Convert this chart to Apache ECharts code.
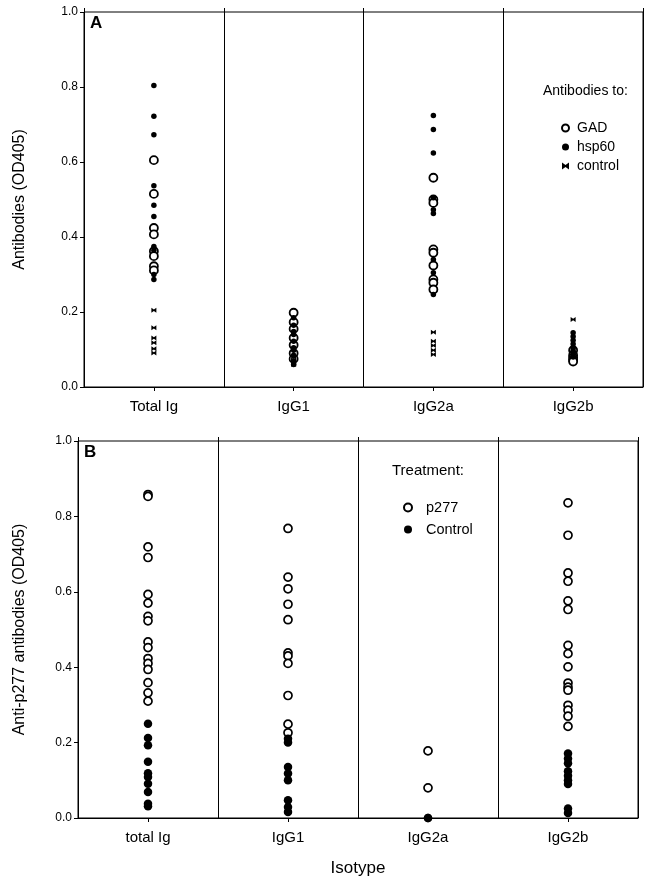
<!DOCTYPE html>
<html>
<head>
<meta charset="utf-8">
<script src="https://cdn.jsdelivr.net/npm/echarts@6/dist/echarts.min.js"></script>
<style>html,body{margin:0;padding:0;background:#fff}#c{width:646px;height:884px}</style>
</head>
<body>
<div id="c"></div>
<script>
// ---- data ----
const categoriesA = ['Total Ig', 'IgG1', 'IgG2a', 'IgG2b'];
const categoriesB = ['total Ig', 'IgG1', 'IgG2a', 'IgG2b'];
const yTickInterval = 0.2;

// Panel A: antibodies to GAD / hsp60 / control, one list per isotype
const gadA = [
  [0.605, 0.515, 0.424, 0.407, 0.362, 0.349, 0.322, 0.311],
  [0.198, 0.173, 0.155, 0.131, 0.112, 0.090, 0.075],
  [0.558, 0.500, 0.491, 0.367, 0.358, 0.324, 0.287, 0.278, 0.260],
  [0.098, 0.085, 0.078, 0.072, 0.068]
];
const hspA = [
  [0.804, 0.722, 0.673, 0.537, 0.485, 0.455, 0.375, 0.365, 0.300, 0.287],
  [0.185, 0.165, 0.148, 0.140, 0.122, 0.105, 0.098, 0.085, 0.070, 0.060],
  [0.724, 0.687, 0.624, 0.505, 0.473, 0.463, 0.340, 0.305, 0.247],
  [0.145, 0.135, 0.125, 0.115, 0.105, 0.095, 0.088, 0.080]
];
const ctrlA = [
  [0.205, 0.158, 0.131, 0.118, 0.102, 0.091],
  [0.080, 0.070, 0.065, 0.060],
  [0.146, 0.122, 0.111, 0.098, 0.087],
  [0.180, 0.100, 0.090]
];

// Panel B: anti-p277 antibodies, p277 treated vs Control
const p277B = [
  [0.858, 0.853, 0.719, 0.691, 0.593, 0.570, 0.535, 0.523, 0.467, 0.452, 0.423, 0.410, 0.394, 0.359, 0.332, 0.310],
  [0.768, 0.639, 0.608, 0.567, 0.526, 0.438, 0.430, 0.410, 0.325, 0.249, 0.226],
  [0.178, 0.080],
  [0.836, 0.750, 0.650, 0.628, 0.576, 0.553, 0.458, 0.436, 0.401, 0.358, 0.347, 0.339, 0.299, 0.286, 0.270, 0.243]
];
const ctrlB = [
  [0.250, 0.212, 0.193, 0.149, 0.119, 0.109, 0.091, 0.069, 0.038, 0.031],
  [0.210, 0.200, 0.135, 0.118, 0.100, 0.047, 0.029, 0.016],
  [0.000, 0.000],
  [0.171, 0.158, 0.145, 0.124, 0.112, 0.100, 0.090, 0.025, 0.013]
];

// ---- build ----
const toPairs = groups => groups.flatMap((vals, i) => vals.map(v => [i, v]));
const FONT = '"Liberation Sans", Arial, Helvetica, sans-serif';
const bowtie = 'path://M0,0L5,3.5L10,0L10,10L5,6.5L0,10Z';

function yAxis(gridIndex, name, gap) {
  return {
    type: 'value', gridIndex, min: 0, max: 1, interval: yTickInterval,
    name, nameLocation: 'middle', nameGap: gap, nameRotate: 90,
    nameTextStyle: { fontFamily: FONT, fontSize: 16, color: '#000' },
    axisLine: { show: true, lineStyle: { color: '#000', width: 1 } },
    axisTick: { show: true, length: 4, lineStyle: { color: '#000' } },
    axisLabel: { fontFamily: FONT, fontSize: 12, color: '#000', margin: 6, formatter: v => v.toFixed(1) },
    splitLine: { show: false }
  };
}
function xAxisMain(gridIndex, cats, extra) {
  return Object.assign({
    type: 'category', gridIndex, data: cats, boundaryGap: true,
    axisLine: { show: true, lineStyle: { color: '#000', width: 1 } },
    axisTick: { show: true, alignWithLabel: true, length: 4, lineStyle: { color: '#000' } },
    axisLabel: { fontFamily: FONT, fontSize: 15, color: '#000', margin: 12 },
    splitLine: { show: true, lineStyle: { color: '#000', width: 1 } }
  }, extra || {});
}
function xAxisDiv(gridIndex, cats) {
  return {
    type: 'category', gridIndex, data: cats, boundaryGap: true,
    axisLine: { show: false }, axisLabel: { show: false },
    axisTick: { show: true, length: 4, lineStyle: { color: '#000' } },
    splitLine: { show: false }
  };
}

const option = {
  backgroundColor: '#fff',
  animation: false,
  grid: [
    { left: 84, top: 12, width: 559, height: 375, show: true, borderColor: '#000', borderWidth: 1, backgroundColor: 'transparent' },
    { left: 78, top: 441, width: 560, height: 377, show: true, borderColor: '#000', borderWidth: 1, backgroundColor: 'transparent' }
  ],
  xAxis: [
    xAxisMain(0, categoriesA),
    xAxisDiv(0, categoriesA),
    xAxisMain(1, categoriesB, {
      name: 'Isotype', nameLocation: 'middle', nameGap: 42,
      nameTextStyle: { fontFamily: FONT, fontSize: 17, color: '#000' }
    }),
    xAxisDiv(1, categoriesB)
  ],
  yAxis: [
    yAxis(0, 'Antibodies (OD405)', 56),
    yAxis(1, 'Anti-p277 antibodies (OD405)', 50)
  ],
  legend: [
    {
      data: ['GAD', 'hsp60', 'control'], orient: 'vertical', left: 556, top: 116,
      itemWidth: 7, itemHeight: 7, itemGap: 5,
      textStyle: { fontFamily: FONT, fontSize: 14, color: '#000', padding: [0, 0, 0, 3] }
    },
    {
      data: ['p277', 'Control'], orient: 'vertical', left: 398, top: 495,
      itemWidth: 8, itemHeight: 8, itemGap: 7,
      textStyle: { fontFamily: FONT, fontSize: 14.5, color: '#000', padding: [0, 0, 0, 9] }
    }
  ],
  graphic: [
    { type: 'text', left: 90, top: 15, style: { text: 'A', font: 'bold 17px ' + FONT, fill: '#000' } },
    { type: 'text', left: 84, top: 444, style: { text: 'B', font: 'bold 17px ' + FONT, fill: '#000' } },
    { type: 'text', left: 543, top: 84, style: { text: 'Antibodies to:', font: '14px ' + FONT, fill: '#000' } },
    { type: 'text', left: 392, top: 463, style: { text: 'Treatment:', font: '15px ' + FONT, fill: '#000' } }
  ],
  series: [
    { name: 'GAD', type: 'scatter', xAxisIndex: 0, yAxisIndex: 0, data: toPairs(gadA),
      symbol: 'circle', symbolSize: 8, itemStyle: { color: '#fff', borderColor: '#000', borderWidth: 1.8, opacity: 1 }, z: 3 },
    { name: 'hsp60', type: 'scatter', xAxisIndex: 0, yAxisIndex: 0, data: toPairs(hspA),
      symbol: 'circle', symbolSize: 5.5, itemStyle: { color: '#000', borderWidth: 0, opacity: 1 }, z: 4 },
    { name: 'control', type: 'scatter', xAxisIndex: 0, yAxisIndex: 0, data: toPairs(ctrlA),
      symbol: bowtie, symbolSize: [5, 5], itemStyle: { color: '#000', borderWidth: 0, opacity: 1 }, z: 4 },
    { name: 'p277', type: 'scatter', xAxisIndex: 2, yAxisIndex: 1, data: toPairs(p277B),
      symbol: 'circle', symbolSize: 8, itemStyle: { color: '#fff', borderColor: '#000', borderWidth: 1.7, opacity: 1 }, z: 3 },
    { name: 'Control', type: 'scatter', xAxisIndex: 2, yAxisIndex: 1, data: toPairs(ctrlB),
      symbol: 'circle', symbolSize: 8.5, itemStyle: { color: '#000', borderWidth: 0, opacity: 1 }, z: 4, clip: false }
  ]
};

const chart = echarts.init(document.getElementById('c'), null, { renderer: 'canvas' });
chart.setOption(option);
</script>
</body>
</html>
